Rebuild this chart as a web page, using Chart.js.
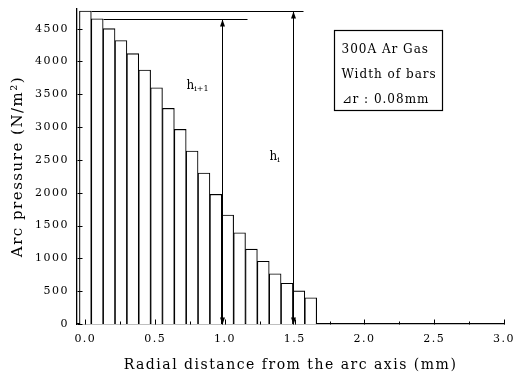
<!DOCTYPE html>
<html>
<head>
<meta charset="utf-8">
<script src="https://cdn.jsdelivr.net/npm/chart.js@4.4.1/dist/chart.umd.min.js"></script>
<style>
  html, body { margin: 0; padding: 0; background: #fff; }
  #wrap { width: 513px; height: 376px; position: relative; }
</style>
</head>
<body>
<div id="wrap"><canvas id="arc-chart"></canvas></div>
<script>
// bar centres (mm) and arc pressure (N/m^2)
const radius = [0, 0.085, 0.17, 0.255, 0.34, 0.425, 0.51, 0.595, 0.68, 0.765,
  0.85, 0.935, 1.02, 1.105, 1.19, 1.275, 1.36, 1.445, 1.53, 1.615];
const pressure = [4770, 4650, 4500, 4320, 4120, 3870, 3600, 3285, 2965, 2635,
  2300, 1975, 1660, 1390, 1140, 955, 765, 620, 505, 400];

const xMajorTicks = [0.0, 0.5, 1.0, 1.5, 2.0, 2.5, 3.0];
const xMinorTicks = [0.25, 0.75, 1.25, 1.75, 2.25, 2.75];
const yTicks = [0, 500, 1000, 1500, 2000, 2500, 3000, 3500, 4000, 4500];
const boxLines = ['300A Ar Gas', 'Width of bars', '\u22BFr : 0.08mm'];

const serif = "'DejaVu Serif', serif";
Chart.defaults.font.family = serif;
Chart.defaults.color = '#000';

function line(ctx, x1, y1, x2, y2) {
  ctx.beginPath();
  ctx.moveTo(x1, y1);
  ctx.lineTo(x2, y2);
  ctx.stroke();
}

// dir 1 = points down, -1 = points up
function arrowHead(ctx, x, y, dir) {
  ctx.beginPath();
  ctx.moveTo(x, y);
  ctx.lineTo(x - 2.5, y - dir * 7);
  ctx.lineTo(x + 2.5, y - dir * 7);
  ctx.closePath();
  ctx.fill();
}

function heightLabel(ctx, x, y, sub) {
  ctx.font = '12px ' + serif;
  ctx.textAlign = 'left';
  ctx.textBaseline = 'alphabetic';
  ctx.fillText('h', x, y);
  const w = ctx.measureText('h').width;
  ctx.font = '8px ' + serif;
  ctx.fillText(sub, x + w, y + 2);
}

const extras = {
  id: 'extras',
  beforeUpdate(chart) { chart.ctx.letterSpacing = '1.5px'; },
  beforeDraw(chart) { chart.ctx.letterSpacing = '1.5px'; },
  afterDraw(chart) {
    const { ctx, chartArea, scales: { x, y } } = chart;
    const px = v => Math.round(x.getPixelForValue(v)) + 0.5;
    const py = v => Math.round(y.getPixelForValue(v)) + 0.5;
    ctx.save();
    ctx.strokeStyle = '#000';
    ctx.fillStyle = '#000';
    ctx.lineWidth = 1;

    // inward tick marks
    const base = py(0);
    xMajorTicks.forEach(v => line(ctx, px(v), base, px(v), base - 5));
    xMinorTicks.forEach(v => line(ctx, px(v), base, px(v), base - 3));
    const left = Math.round(chartArea.left) + 0.5;
    yTicks.forEach(v => line(ctx, left, py(v), left + 5, py(v)));

    // h_i and h_i+1 construction lines
    const half = (radius[1] - radius[0]) / 2;
    const topY = py(pressure[0]);
    const secY = py(pressure[1]);
    const xI1 = px((radius[11] + radius[12]) / 2);
    const xI = px((radius[17] + radius[18]) / 2);
    line(ctx, px(radius[0] + half), topY, xI + 10, topY);
    line(ctx, px(radius[1] + half), secY, xI1 + 25, secY);
    line(ctx, xI1, secY, xI1, base);
    line(ctx, xI, topY, xI, base);
    arrowHead(ctx, xI1, base, 1);
    arrowHead(ctx, xI1, secY, -1);
    arrowHead(ctx, xI, base, 1);
    arrowHead(ctx, xI, topY, -1);

    ctx.letterSpacing = '0px';
    heightLabel(ctx, xI1 - 36, 89, 'i+1');
    heightLabel(ctx, xI - 24, 160, 'i');

    // info box
    const bx = Math.round(chartArea.right) - 170 + 0.5;
    const by = 30.5;
    ctx.lineWidth = 1.2;
    ctx.strokeRect(bx, by, 108, 80);
    ctx.letterSpacing = '1px';
    ctx.font = '12px ' + serif;
    ctx.textAlign = 'left';
    boxLines.forEach((t, i) => ctx.fillText(t, bx + 7, by + 22 + i * 25));
    ctx.restore();
  }
};

new Chart(document.getElementById('arc-chart'), {
  type: 'bar',
  data: {
    datasets: [{
      data: radius.map((r, i) => ({ x: r, y: pressure[i] })),
      backgroundColor: '#fff',
      borderColor: '#000',
      borderWidth: 1.1,
      borderSkipped: 'start',
      barPercentage: 1,
      categoryPercentage: 1
    }]
  },
  options: {
    responsive: true,
    maintainAspectRatio: false,
    animation: false,
    layout: { padding: { top: 9, right: 9, left: 0, bottom: 0 } },
    plugins: { legend: { display: false }, tooltip: { enabled: false } },
    scales: {
      x: {
        type: 'linear',
        min: -0.06,
        max: 3.0,
        offset: false,
        z: 1,
        afterBuildTicks: s => { s.ticks = xMajorTicks.map(v => ({ value: v })); },
        afterFit: s => { s.height = 52; s.paddingLeft = 0; s.paddingRight = 0; },
        grid: { display: false, drawTicks: false, offset: false },
        border: { display: true, color: '#000', width: 1.3 },
        ticks: {
          padding: 9,
          maxRotation: 0,
          autoSkip: false,
          font: { size: 11 },
          callback: v => Number(v).toFixed(1)
        },
        title: {
          display: true,
          text: 'Radial distance from the arc axis (mm)',
          font: { size: 14 },
          padding: { top: 0, bottom: 2 }
        }
      },
      y: {
        min: 0,
        max: 4800,
        z: 1,
        afterBuildTicks: s => { s.ticks = yTicks.map(v => ({ value: v })); },
        afterFit: s => { s.width = 77; s.paddingTop = 0; s.paddingBottom = 0; },
        grid: { display: false, drawTicks: false },
        border: { display: true, color: '#000', width: 1.3 },
        ticks: { padding: 8, font: { size: 11 }, callback: v => String(v) },
        title: {
          display: true,
          text: 'Arc pressure (N/m\u00B2)',
          font: { size: 15 },
          padding: { top: 9, bottom: 0 }
        }
      }
    }
  },
  plugins: [extras]
});
</script>
</body>
</html>
